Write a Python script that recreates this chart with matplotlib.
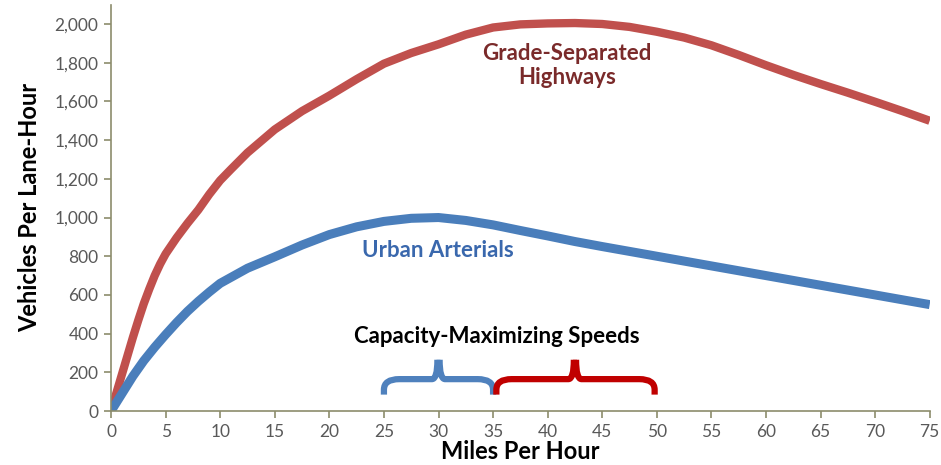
import matplotlib
matplotlib.use("Agg")
import matplotlib.pyplot as plt
from matplotlib.path import Path
from matplotlib.patches import PathPatch
from matplotlib.ticker import FuncFormatter

plt.rcParams['font.family'] = ['Lato', 'DejaVu Sans']

# Speed (mph) vs. throughput (vehicles per lane-hour)
highway_mph = [0, 0.5, 1, 1.5, 2, 2.5, 3, 3.5, 4, 4.5, 5, 6, 7, 8, 9, 10, 11,
               12.5, 15, 17.5, 20, 22.5, 25, 27.5, 30, 32.5, 35, 37.5, 40, 42.5,
               45, 47.5, 50, 52.5, 55, 57.5, 60, 62.5, 65, 67.5, 70, 72.5, 75]
highway_vph = [0, 95, 190, 285, 380, 470, 555, 630, 700, 760, 812, 895, 970,
               1040, 1120, 1192, 1250, 1335, 1455, 1550, 1630, 1715, 1795, 1850,
               1895, 1945, 1982, 1998, 2003, 2005, 2000, 1985, 1960, 1930, 1890,
               1840, 1787, 1737, 1690, 1645, 1598, 1550, 1500]

arterial_mph = [0, 0.5, 1, 1.5, 2, 2.5, 3, 4, 5, 6, 7, 8, 9, 10, 12.5, 15, 17.5,
                20, 22.5, 25, 27.5, 30, 32.5, 35, 37.5, 40, 42.5, 45, 47.5, 50,
                52.5, 55, 57.5, 60, 62.5, 65, 67.5, 70, 72.5, 75]
arterial_vph = [0, 45, 90, 135, 180, 220, 260, 330, 395, 457, 515, 567, 615,
                660, 738, 797, 858, 912, 952, 980, 996, 1000, 985, 962, 933,
                905, 876, 850, 825, 800, 775, 750, 725, 700, 675, 650, 625, 600,
                575, 550]

# Capacity-maximizing speed ranges: (start, peak, end)
arterial_range = (25, 30, 35)
highway_range = (35.3, 42.5, 49.8)

x_ticks = list(range(0, 80, 5))
y_ticks = list(range(0, 2200, 200))

RED = '#c0504d'
BLUE = '#4a7ebb'
AXIS = '#8c8c6c'
TICK_TXT = '#595959'

fig = plt.figure(figsize=(9.41, 4.65), dpi=100)
ax = fig.add_axes([0.118, 0.116, 0.870, 0.874])

ax.plot(highway_mph, highway_vph, color=RED, lw=6, solid_capstyle='butt',
        solid_joinstyle='round')
ax.plot(arterial_mph, arterial_vph, color=BLUE, lw=6.5, solid_capstyle='butt',
        solid_joinstyle='round')


def brace(start, peak, end, color, y0=85, y1=165, y2=265):
    """Curly brace spanning start..end with its point at peak."""
    r = 1.4
    ry = 55
    verts = [(start, y0), (start, y1 - ry), (start, y1), (start + r, y1),
             (peak - 0.6, y1), (peak - 0.1, y1), (peak - 0.1, y2),
             (peak + 0.1, y2), (peak + 0.1, y1), (peak + 0.6, y1),
             (end - r, y1), (end, y1), (end, y1 - ry), (end, y0)]
    codes = [Path.MOVETO, Path.LINETO, Path.CURVE3, Path.CURVE3,
             Path.LINETO, Path.CURVE3, Path.CURVE3,
             Path.MOVETO, Path.CURVE3, Path.CURVE3,
             Path.LINETO, Path.CURVE3, Path.CURVE3, Path.LINETO]
    ax.add_patch(PathPatch(Path(verts, codes), fill=False, edgecolor=color,
                           lw=4.5, capstyle='butt', joinstyle='round'))


brace(*arterial_range, color='#4f81bd')
brace(*highway_range, color='#c00000')

ax.text(35.3, 385, 'Capacity-Maximizing Speeds', ha='center', va='center',
        fontsize=16, fontweight='bold', color='black')
ax.text(41.8, 1785, 'Grade-Separated\nHighways', ha='center', va='center',
        fontsize=16, fontweight='bold', color='#7a2a2a', linespacing=1.2)
ax.text(29.9, 830, 'Urban Arterials', ha='center', va='center',
        fontsize=16, fontweight='bold', color='#3a68ad')

ax.set_xlim(0, 75)
ax.set_ylim(0, 2100)
ax.set_xticks(x_ticks)
ax.set_yticks(y_ticks)
ax.yaxis.set_major_formatter(FuncFormatter(lambda v, _: f'{int(v):,}'))

for side in ('top', 'right'):
    ax.spines[side].set_visible(False)
for side in ('left', 'bottom'):
    ax.spines[side].set_color(AXIS)
    ax.spines[side].set_linewidth(1.2)
ax.tick_params(axis='both', direction='out', length=5, width=1.2, color=AXIS,
               labelsize=12.5, labelcolor=TICK_TXT, pad=4)

ax.set_xlabel('Miles Per Hour', fontsize=17, fontweight='bold', labelpad=0)
ax.set_ylabel('Vehicles Per Lane-Hour', fontsize=17, fontweight='bold',
              labelpad=10)

fig.savefig('out.png', dpi=100, facecolor='white')
